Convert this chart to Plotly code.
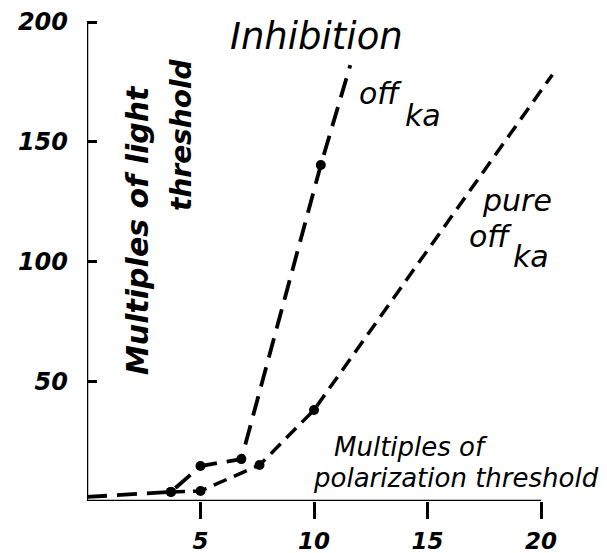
import plotly.graph_objects as go

# ---- data ----
inhib_x = [0.0, 3.7, 5.0, 6.8, 10.3, 11.6]
inhib_y = [1.7, 3.8, 14.6, 17.5, 140.3, 182.0]
inhib_marked = [False, True, True, True, True, False]

pure_x = [3.7, 5.0, 7.6, 10.0, 20.5]
pure_y = [3.8, 4.2, 15.0, 38.0, 178.0]
pure_marked = [True, True, True, True, False]

x_ticks = [5, 10, 15, 20]
y_ticks = [50, 100, 150, 200]

FONT = "DejaVu Sans"
OFF = 8  # default page body margin

fig = go.Figure()

def add_series(xs, ys, marked, dash, width):
    fig.add_trace(go.Scatter(
        x=xs, y=ys, mode="lines",
        line=dict(color="black", width=width, dash=dash),
        hoverinfo="skip", showlegend=False))
    mx = [x for x, m in zip(xs, marked) if m]
    my = [y for y, m in zip(ys, marked) if m]
    fig.add_trace(go.Scatter(
        x=mx, y=my, mode="markers",
        marker=dict(color="black", size=10),
        hoverinfo="skip", showlegend=False, cliponaxis=False))

add_series(pure_x, pure_y, pure_marked, "14px,8px", 3.5)
add_series(inhib_x, inhib_y, inhib_marked, "20px,10px", 3.8)

# axis lines
fig.add_shape(type="line", xref="x", yref="y", x0=0, y0=0, x1=20, y1=0,
              line=dict(color="black", width=2.5))
fig.add_shape(type="line", xref="x", yref="y", x0=0, y0=0, x1=0, y1=200,
              line=dict(color="black", width=2.5))

def ann(text, x, y, size, xanchor="left", angle=0, bold=False):
    t = f"<i>{text}</i>"
    if bold:
        t = f"<b>{t}</b>"
    fig.add_annotation(text=t, x=x, y=y, xref="x", yref="y",
                       xanchor=xanchor, yanchor="middle", showarrow=False,
                       textangle=angle, borderpad=0,
                       font=dict(family=FONT, size=size, color="black"))

def px2x(px):
    return (px - 87) / 22.7

def px2y(py):
    return (501 - py) / 2.395

ann("Inhibition", px2x(316), px2y(36), 37, xanchor="center")
ann("off", px2x(358), px2y(93), 30)
ann("ka", px2x(404), px2y(115), 30)
ann("pure", px2x(481), px2y(200), 30)
ann("off", px2x(468), px2y(236), 30)
ann("ka", px2x(512), px2y(256), 30)
ann("Multiples of", px2x(333), px2y(447), 26)
ann("polarization threshold", px2x(600), px2y(478), 26, xanchor="right")
ann("Multiples of light", px2x(137), px2y(230), 30, xanchor="center", angle=-90, bold=True)
ann("threshold", px2x(181), px2y(135), 28, xanchor="center", angle=-90, bold=True)

fig.update_layout(
    width=607 - OFF, height=553 - OFF,
    margin=dict(l=87 - OFF, r=0, t=0, b=52),
    plot_bgcolor="white", paper_bgcolor="white",
    xaxis=dict(range=[0, 520 / 22.7], showgrid=False, zeroline=False,
               showline=False, tickvals=x_ticks, automargin=False,
               ticktext=[str(v) for v in x_ticks],
               ticks="outside", ticklen=17, tickwidth=2.5, tickcolor="black",
               ticklabelstandoff=2, ticklabeloverflow="allow",
               tickfont=dict(family=FONT, size=23, color="black",
                             style="italic", weight="bold")),
    yaxis=dict(range=[0, (501 - OFF) / 2.395], showgrid=False, zeroline=False,
               showline=False, tickvals=y_ticks, automargin=False,
               ticktext=[str(v) for v in y_ticks],
               ticks="inside", ticklen=10, tickwidth=2.5, tickcolor="black",
               ticklabelstandoff=18, ticklabeloverflow="allow",
               tickfont=dict(family=FONT, size=24, color="black",
                             style="italic", weight="bold")),
)

fig.write_html("out.html")
